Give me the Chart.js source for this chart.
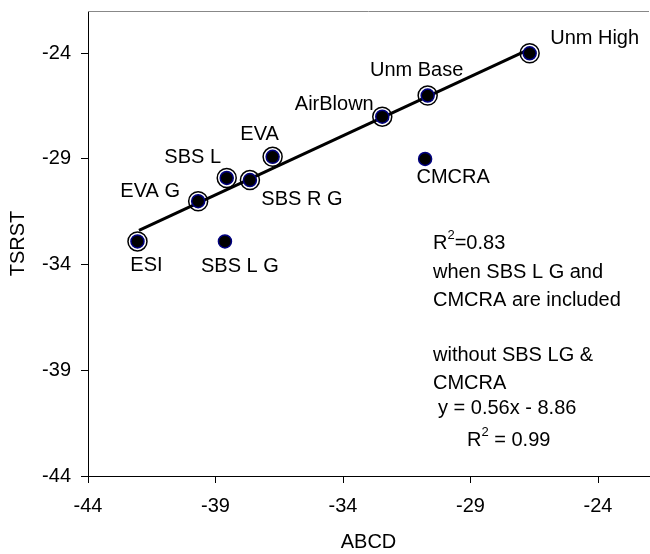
<!DOCTYPE html>
<html>
<head>
<meta charset="utf-8">
<script src="https://cdn.jsdelivr.net/npm/chart.js@4"></script>
<style>
  body { margin: 0; background: #fff; }
  #wrap { width: 650px; height: 554px; overflow: hidden; }
</style>
</head>
<body>
<div id="wrap"><canvas id="chart1" width="660" height="554"></canvas></div>
<script>
// points on the fit line
const mainNames = ['ESI', 'EVA G', 'SBS L', 'SBS R G', 'EVA', 'AirBlown', 'Unm Base', 'Unm High'];
const mainX = [-42.06, -39.68, -38.56, -37.65, -36.76, -32.46, -30.68, -26.68];
const mainY = [-32.9, -31.0, -29.9, -30.0, -28.9, -27.0, -26.0, -24.0];

// points left out of the fit
const outNames = ['SBS L G', 'CMCRA'];
const outX = [-38.63, -30.78];
const outY = [-32.9, -29.0];

// trend line ends
const trendX = [-42.0, -26.68];
const trendY = [-32.38, -23.8];

const xTicks = [-44, -39, -34, -29, -24];
const yTicks = [-44, -39, -34, -29, -24];

const FONT = "'Liberation Sans', Arial, sans-serif";
Chart.defaults.font.family = FONT;
Chart.defaults.color = '#000';

// where each name sits relative to its marker
const labelOffsets = {
    'ESI': [9, 24], 'EVA G': [-48, -10], 'SBS L': [-34, -20], 'SBS R G': [52, 19],
    'EVA': [-13, -22], 'AirBlown': [-48, -12], 'Unm Base': [-11, -25], 'Unm High': [65, -15],
    'SBS L G': [15, 25], 'CMCRA': [28, 19]
};

const noteLines = [
    { t: 'R', sup: '2', rest: '=0.83', x: 433, y: 243 },
    { t: 'when SBS L G and', x: 433, y: 272 },
    { t: 'CMCRA are included', x: 433, y: 300 },
    { t: 'without SBS LG &', x: 433, y: 355 },
    { t: 'CMCRA', x: 433, y: 383 },
    { t: 'y = 0.56x - 8.86', x: 438, y: 408 },
    { t: 'R', sup: '2', rest: ' = 0.99', x: 467, y: 440 }
];

const labelPlugin = {
    id: 'pointLabels',
    afterDraw(chart) {
        const ctx = chart.ctx;
        const xs = chart.scales.x, ys = chart.scales.y;
        ctx.save();
        ctx.fillStyle = '#000';
        ctx.font = '20px ' + FONT;
        ctx.textAlign = 'center';
        ctx.textBaseline = 'middle';
        const put = (names, X, Y) => names.forEach((n, i) => {
            const o = labelOffsets[n];
            ctx.fillText(n, xs.getPixelForValue(X[i]) + o[0], ys.getPixelForValue(Y[i]) + o[1]);
        });
        put(mainNames, mainX, mainY);
        put(outNames, outX, outY);

        ctx.textAlign = 'left';
        noteLines.forEach(l => {
            ctx.font = '20px ' + FONT;
            ctx.fillText(l.t, l.x, l.y);
            if (l.sup) {
                let w = ctx.measureText(l.t).width;
                ctx.font = '13px ' + FONT;
                ctx.fillText(l.sup, l.x + w, l.y - 8);
                w += ctx.measureText(l.sup).width;
                ctx.font = '20px ' + FONT;
                ctx.fillText(l.rest, l.x + w, l.y);
            }
        });
        // top border of plot area
        const a = chart.chartArea;
        ctx.strokeStyle = '#888';
        ctx.lineWidth = 1;
        ctx.beginPath();
        ctx.moveTo(a.left, a.top + 0.5);
        ctx.lineTo(a.right, a.top + 0.5);
        ctx.stroke();
        ctx.restore();
    }
};

const toPts = (X, Y) => X.map((x, i) => ({ x: x, y: Y[i] }));

const ctx1 = document.getElementById('chart1').getContext('2d');
new Chart(ctx1, {
    type: 'scatter',
    data: {
        datasets: [
            {
                label: 'rings',
                data: toPts(mainX, mainY),
                pointRadius: 9.5,
                pointBackgroundColor: '#fff',
                pointBorderColor: '#000',
                pointBorderWidth: 1.5,
                order: 3
            },
            {
                label: 'trend',
                type: 'line',
                data: toPts(trendX, trendY),
                borderColor: '#000',
                borderWidth: 3,
                pointRadius: 0,
                fill: false,
                order: 2
            },
            {
                label: 'fitted',
                data: toPts(mainX, mainY),
                pointRadius: 6.5,
                pointBackgroundColor: '#000',
                pointBorderColor: '#000080',
                pointBorderWidth: 1.5,
                order: 1
            },
            {
                label: 'excluded',
                data: toPts(outX, outY),
                pointRadius: 6.5,
                pointBackgroundColor: '#000',
                pointBorderColor: '#000080',
                pointBorderWidth: 1.5,
                order: 1
            }
        ]
    },
    options: {
        responsive: false,
        animation: false,
        devicePixelRatio: 1,
        layout: { padding: { top: 11, right: 2, left: 0, bottom: 0 } },
        plugins: { legend: { display: false }, tooltip: { enabled: false } },
        scales: {
            x: {
                type: 'linear',
                min: -44,
                max: -22,
                afterBuildTicks: s => { s.ticks = xTicks.map(v => ({ value: v })); },
                afterFit: s => { s.height = 78; s.paddingLeft = 0; s.paddingRight = 0; },
                grid: { drawOnChartArea: false, drawTicks: true, tickLength: 7, color: '#000', lineWidth: 1 },
                border: { color: '#000', width: 1 },
                ticks: { font: { size: 20 }, color: '#000', padding: 11, maxRotation: 0 },
                title: { display: true, text: 'ABCD', font: { size: 20 }, color: '#000', padding: 0 }
            },
            y: {
                type: 'linear',
                min: -44,
                max: -22,
                afterBuildTicks: s => { s.ticks = yTicks.map(v => ({ value: v })); },
                afterFit: s => { s.width = 88; s.paddingTop = 0; s.paddingBottom = 0; },
                grid: { drawOnChartArea: false, drawTicks: true, tickLength: 7, color: '#000', lineWidth: 1 },
                border: { color: '#000', width: 1 },
                ticks: { font: { size: 20 }, color: '#000', padding: 10 },
                title: { display: true, text: 'TSRST', font: { size: 20 }, color: '#000', padding: { top: 6, bottom: 0 } }
            }
        }
    },
    plugins: [labelPlugin]
});
</script>
</body>
</html>
